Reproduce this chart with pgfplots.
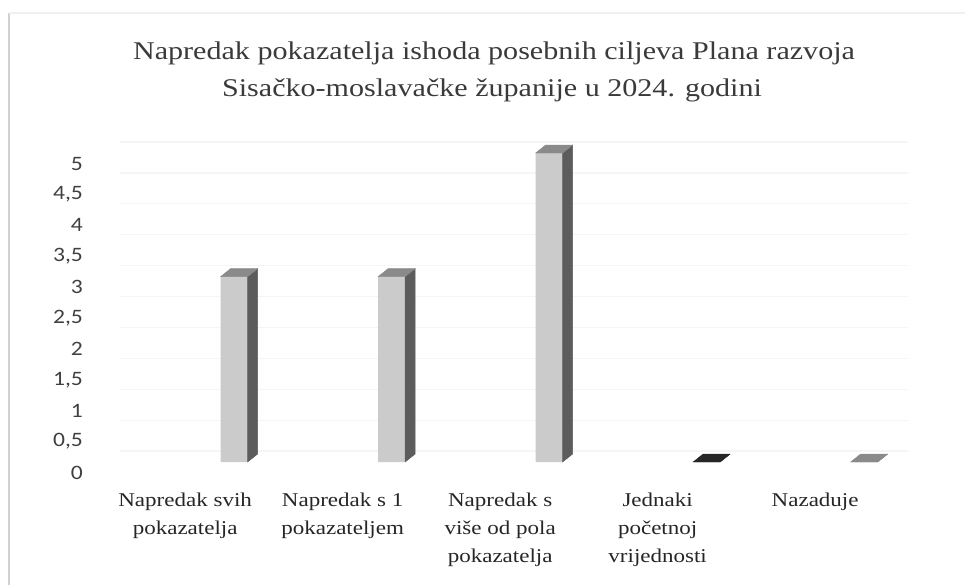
\documentclass[border=0pt]{standalone}
\usepackage{fontspec}
\setmainfont{Liberation Serif}[FakeStretch=1.18]
\newfontfamily\carlito{Carlito}[FakeStretch=1.15]
\usepackage{pgfplots}
\pgfplotsset{compat=1.18}
\usepackage{pgfplotstable}
\definecolor{frontcol}{HTML}{CBCBCB}
\definecolor{sidecol}{HTML}{5C5C5C}
\definecolor{topcol}{HTML}{8A8A8A}
\definecolor{titlecol}{HTML}{3A3A3A}
\pgfplotstableread{
x y
0 3
1 3
2 5
3 0
4 0
}\datatable
\pgfdeclareplotmark{nothing}{}
\pgfplotsset{
  bar3d/.style={
    scatter,
    only marks,
    mark=nothing,
    visualization depends on={rawy \as \val},
    scatter/@pre marker code/.code={%
      \pgfmathsetmacro\h{\val*61.8}%
      \fill[sidecol] (62.5pt,0pt) -- (72.5pt,8pt) -- (72.5pt,{(8-\h)*1pt}) -- (62.5pt,{-\h*1pt}) -- cycle;%
      \fill[#1] (35.5pt,0pt) -- (62.5pt,0pt) -- (72.5pt,8pt) -- (45.5pt,8pt) -- cycle;%
    },
    scatter/@post marker code/.code={},
  },
}
\begin{document}
\begin{tikzpicture}
\path[use as bounding box] (0pt,0pt) rectangle (965pt,-585pt);
\draw[black!18, line width=2pt] (9pt,-585pt) -- (9pt,-13pt);
\draw[black!6, line width=2pt] (9pt,-13pt) -- (965pt,-13pt);
\node[anchor=base, text=titlecol, font=\fontsize{25.5}{30}\selectfont] at (494pt,-60pt) {Napredak pokazatelja ishoda posebnih ciljeva Plana razvoja};
\node[anchor=base, text=titlecol, font=\fontsize{25.5}{30}\selectfont] at (492pt,-97pt) {Sisačko-moslavačke županije u 2024. godini};
\begin{axis}[
  at={(106.4pt,-462pt)}, anchor=south west,
  scale only axis, width=787.5pt, height=309pt,
  xmin=-0.5, xmax=4.5, ymin=0, ymax=5,
  clip=false,
  axis line style={draw=none},
  major tick length=0pt,
  xtick={0,1,2,3,4},
  xticklabels={{Napredak svih\\pokazatelja},{Napredak s 1\\pokazateljem},{Napredak s\\više od pola\\pokazatelja},{Jednaki\\početnoj\\vrijednosti},{Nazaduje}},
  xticklabel style={align=center, anchor=north, yshift=-27pt, text=black!85, font=\fontsize{19.5}{28}\selectfont},
  ytick={0,0.5,...,5},
  yticklabel style={anchor=east, xshift=-20pt, yshift=-10.5pt, text=black!75, font=\carlito\fontsize{20.5}{22}\selectfont},
  /pgf/number format/.cd, use comma, assume math mode=true,
  /pgfplots/.cd,
  ymajorgrids,
  major grid style={black!4, line width=1.2pt, transform canvas={shift={(14pt,11pt)}}},
]
\addplot[ybar, bar width=27pt, bar shift=49pt, fill=frontcol, draw=none] table[x=x,y=y] {\datatable};
\addplot[bar3d=topcol, restrict x to domain=0:2] table[x=x,y=y] {\datatable};
\addplot[bar3d=black!85, restrict x to domain=2.5:3.5] table[x=x,y=y] {\datatable};
\addplot[bar3d=topcol, restrict x to domain=3.5:4.5] table[x=x,y=y] {\datatable};
\end{axis}
\end{tikzpicture}
\end{document}
